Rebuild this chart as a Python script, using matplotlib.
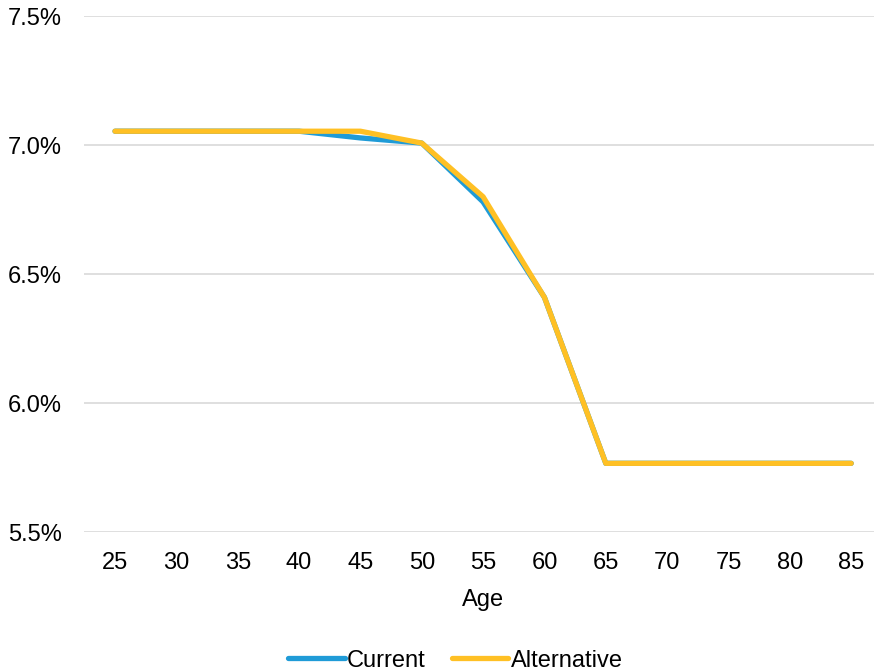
import matplotlib

matplotlib.use("Agg")
import matplotlib.pyplot as plt
from matplotlib.ticker import FuncFormatter

ages = [25, 30, 35, 40, 45, 50, 55, 60, 65, 70, 75, 80, 85]
current = [7.054, 7.054, 7.054, 7.054, 7.028, 7.008, 6.78, 6.41, 5.767, 5.767, 5.767, 5.767, 5.767]
alternative = [7.054, 7.054, 7.054, 7.054, 7.054, 7.008, 6.80, 6.41, 5.767, 5.767, 5.767, 5.767, 5.767]
y_ticks = [5.5, 6.0, 6.5, 7.0, 7.5]

plt.rcParams["font.family"] = ["Liberation Sans", "DejaVu Sans"]

fig = plt.figure(figsize=(8.74, 6.72), dpi=100)
# plot area runs slightly past the right edge, like the original
ax = fig.add_axes([0.0965, 0.208, 0.9125, 0.768])

x = list(range(len(ages)))
ax.plot(x, current, color="#1f9bd7", linewidth=3.8, label="Current",
        solid_capstyle="round", solid_joinstyle="round", zorder=3)
ax.plot(x, alternative, color="#ffc024", linewidth=3.8, label="Alternative",
        solid_capstyle="round", solid_joinstyle="round", zorder=4)

ax.set_xlim(-0.5, len(ages) - 0.5)
ax.set_ylim(5.5, 7.5)
ax.set_xticks(x)
ax.set_xticklabels([str(a) for a in ages])
ax.set_yticks(y_ticks)
ax.yaxis.set_major_formatter(FuncFormatter(lambda v, _: f"{v:.1f}%"))
ax.tick_params(axis="both", length=0, labelsize=17, colors="#000000")
ax.tick_params(axis="y", pad=16)
ax.tick_params(axis="x", pad=14)
ax.grid(axis="y", color="#d9d9d9", linewidth=1.2)
ax.set_axisbelow(True)
for side in ax.spines.values():
    side.set_visible(False)

ax.set_xlabel("Age", fontsize=17, labelpad=11)

fig.legend(loc="lower center", bbox_to_anchor=(0.521, -0.031), ncol=2,
           frameon=False, fontsize=17, handlelength=2.4, handletextpad=0.1,
           columnspacing=1.1)

fig.savefig("out.png", dpi=100)
